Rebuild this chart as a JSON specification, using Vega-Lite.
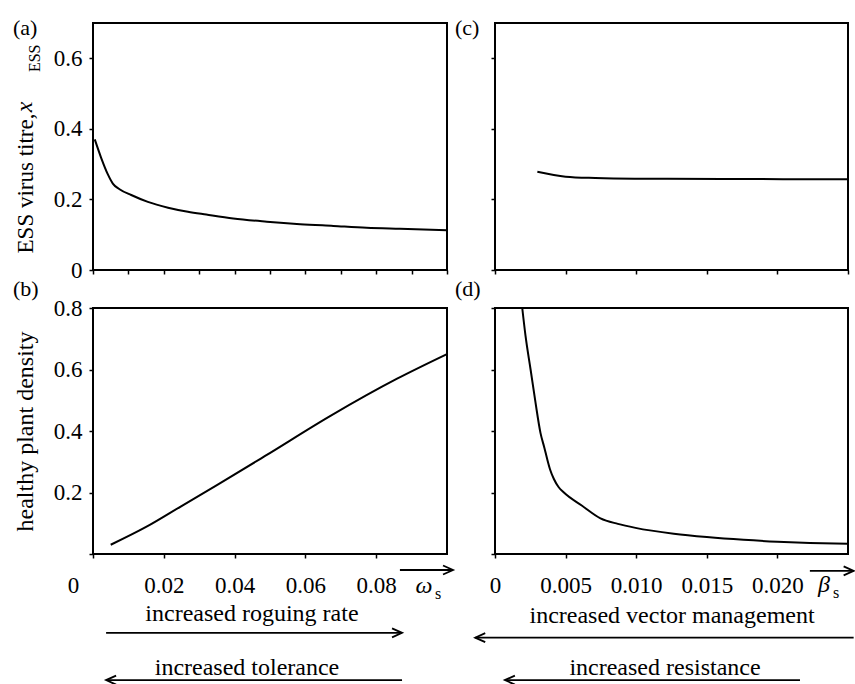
{
  "$schema": "https://vega.github.io/schema/vega-lite/v6.json",
  "background": "white",
  "padding": {"left": 12, "top": 16, "right": 0, "bottom": 0},
  "config": {
    "font": "Liberation Serif",
    "view": {"stroke": "black", "strokeWidth": 2},
    "axis": {
      "domain": false, "grid": false, "ticks": true, "tickColor": "black", "tickWidth": 1.5, "tickSize": 4,
      "labelFont": "Liberation Serif", "labelFontSize": 23, "labelColor": "black", "labelPadding": 7,
      "labelFlush": false, "labelOverlap": false,
      "titleFont": "Liberation Serif", "titleFontSize": 24, "titleFontWeight": "normal", "titleColor": "black"
    },
    "title": {"font": "Liberation Serif", "fontSize": 22, "fontWeight": "normal", "color": "black", "anchor": "start", "frame": "group", "baseline": "alphabetic", "offset": 0},
    "text": {"font": "Liberation Serif", "fontSize": 24, "color": "black"}
  },
  "datasets": {
    "a": [
      {"omega": 0.0005, "titre": 0.370}, {"omega": 0.0023, "titre": 0.318}, {"omega": 0.0042, "titre": 0.271},
      {"omega": 0.0056, "titre": 0.245}, {"omega": 0.0075, "titre": 0.229}, {"omega": 0.0108, "titre": 0.2125},
      {"omega": 0.0155, "titre": 0.193}, {"omega": 0.0212, "titre": 0.1766}, {"omega": 0.0268, "titre": 0.165},
      {"omega": 0.032, "titre": 0.157}, {"omega": 0.0396, "titre": 0.146}, {"omega": 0.0491, "titre": 0.137},
      {"omega": 0.0585, "titre": 0.130}, {"omega": 0.0679, "titre": 0.125}, {"omega": 0.0773, "titre": 0.120},
      {"omega": 0.0867, "titre": 0.117}, {"omega": 0.1, "titre": 0.113}
    ],
    "b": [
      {"omega": 0.005, "density": 0.030}, {"omega": 0.015, "density": 0.088}, {"omega": 0.025, "density": 0.156},
      {"omega": 0.035, "density": 0.224}, {"omega": 0.0485, "density": 0.318}, {"omega": 0.0672, "density": 0.450},
      {"omega": 0.0859, "density": 0.570}, {"omega": 0.1, "density": 0.650}
    ],
    "c": [
      {"beta": 0.003, "titre": 0.2786}, {"beta": 0.005, "titre": 0.2645}, {"beta": 0.0071, "titre": 0.2607},
      {"beta": 0.0099, "titre": 0.2587}, {"beta": 0.0161, "titre": 0.2579}, {"beta": 0.025, "titre": 0.257}
    ],
    "d": [
      {"beta": 0.00193, "density": 0.8}, {"beta": 0.00216, "density": 0.71}, {"beta": 0.00252, "density": 0.60},
      {"beta": 0.00287, "density": 0.492}, {"beta": 0.00322, "density": 0.394}, {"beta": 0.0035, "density": 0.345},
      {"beta": 0.0037, "density": 0.308}, {"beta": 0.0039, "density": 0.275},
      {"beta": 0.00417, "density": 0.244}, {"beta": 0.0045, "density": 0.218}, {"beta": 0.00488, "density": 0.200}, {"beta": 0.00617, "density": 0.157},
      {"beta": 0.00747, "density": 0.116}, {"beta": 0.0087, "density": 0.098}, {"beta": 0.00995, "density": 0.085}, {"beta": 0.01266, "density": 0.066},
      {"beta": 0.015, "density": 0.055}, {"beta": 0.0176, "density": 0.046}, {"beta": 0.02, "density": 0.040},
      {"beta": 0.0223, "density": 0.036}, {"beta": 0.025, "density": 0.033}
    ],
    "arrowsB": [
      {"x1": 0.0037, "x2": 0.0873, "y": -0.2565, "head": 0.0873, "dir": "right"},
      {"x1": 0.0037, "x2": 0.0873, "y": -0.41, "head": 0.0037, "dir": "left"},
      {"x1": 0.0867, "x2": 0.1017, "y": -0.052, "head": 0.1017, "dir": "right"}
    ],
    "textB": [
      {"x": 0.0449, "y": -0.195, "label": "increased roguing rate"},
      {"x": 0.0435, "y": -0.371, "label": "increased tolerance"}
    ],
    "arrowsD": [
      {"x1": -0.0014, "x2": 0.0254, "y": -0.272, "head": -0.0014, "dir": "left"},
      {"x1": 0.0007, "x2": 0.0216, "y": -0.41, "head": 0.0007, "dir": "left"},
      {"x1": 0.0223, "x2": 0.0254, "y": -0.055, "head": 0.0254, "dir": "right"}
    ],
    "textD": [
      {"x": 0.01254, "y": -0.2, "label": "increased vector management"},
      {"x": 0.01204, "y": -0.371, "label": "increased resistance"}
    ]
  },
  "columns": 2,
  "spacing": {"row": 38, "column": 48},
  "bounds": "flush",
  "concat": [
    {
      "title": {"text": "(a)", "dx": -80, "dy": 21},
      "width": 354, "height": 247,
      "resolve": {"axis": {"x": "independent", "y": "independent"}},
      "layer": [
        {
          "data": {"name": "a"},
          "mark": {"type": "line", "color": "black", "strokeWidth": 2, "interpolate": "monotone"},
          "encoding": {
            "x": {"field": "omega", "type": "quantitative", "scale": {"domain": [0, 0.1], "nice": false},
                  "axis": {"values": [0, 0.01, 0.02, 0.03, 0.04, 0.05, 0.06, 0.07, 0.08, 0.09, 0.1], "labels": false, "title": null}},
            "y": {"field": "titre", "type": "quantitative", "scale": {"domain": [0, 0.7], "nice": false},
                  "axis": {"values": [0, 0.2, 0.4, 0.6], "labelExpr": "datum.value === 0 ? '0' : format(datum.value, '.1f')",
                           "title": "ESS virus titre,", "titleFontSize": 23, "titleY": 160, "titlePadding": 16}}
          }
        },
        {
          "data": {"values": [{"x": -0.0172, "y": 0.462, "label": "x"}]},
          "mark": {"type": "text", "angle": 270, "fontSize": 24, "fontStyle": "italic", "baseline": "alphabetic", "align": "center"},
          "encoding": {
            "x": {"field": "x", "type": "quantitative", "axis": null},
            "y": {"field": "y", "type": "quantitative", "axis": null},
            "text": {"field": "label"}
          }
        },
        {
          "data": {"values": [{"x": -0.015, "y": 0.6, "label": "ESS"}]},
          "mark": {"type": "text", "angle": 270, "fontSize": 16, "baseline": "alphabetic", "align": "center"},
          "encoding": {
            "x": {"field": "x", "type": "quantitative", "axis": null},
            "y": {"field": "y", "type": "quantitative", "axis": null},
            "text": {"field": "label"}
          }
        }
      ]
    },
    {
      "title": {"text": "(c)", "dx": -40, "dy": 21},
      "width": 353, "height": 247,
      "data": {"name": "c"},
      "mark": {"type": "line", "color": "black", "strokeWidth": 2, "interpolate": "monotone"},
      "encoding": {
        "x": {"field": "beta", "type": "quantitative", "scale": {"domain": [0, 0.025], "nice": false},
              "axis": {"values": [0, 0.005, 0.01, 0.015, 0.02, 0.025], "labels": false, "title": null}},
        "y": {"field": "titre", "type": "quantitative", "scale": {"domain": [0, 0.7], "nice": false},
              "axis": {"values": [0, 0.2, 0.4, 0.6], "labels": false, "title": null}}
      }
    },
    {
      "title": {"text": "(b)", "dx": -80, "dy": 8},
      "width": 354, "height": 246,
      "resolve": {"axis": {"x": "independent", "y": "independent"}},
      "layer": [
        {
          "data": {"name": "b"},
          "mark": {"type": "line", "color": "black", "strokeWidth": 2, "interpolate": "monotone"},
          "encoding": {
            "x": {"field": "omega", "type": "quantitative", "scale": {"domain": [0, 0.1], "nice": false},
                  "axis": {"values": [0, 0.02, 0.04, 0.06, 0.08], "labelPadding": 16,
                           "labelExpr": "datum.value === 0 ? '0' : format(datum.value, '.2f')", "title": null,
                           "labelOffset": {"condition": {"test": "datum.value === 0", "value": -20}, "value": 0}}},
            "y": {"field": "density", "type": "quantitative", "scale": {"domain": [0, 0.8], "nice": false},
                  "axis": {"values": [0, 0.2, 0.4, 0.6, 0.8], "labelExpr": "datum.value === 0 ? '' : format(datum.value, '.1f')",
                           "title": "healthy plant density", "titlePadding": 16}}
          }
        },
        {
          "data": {"name": "arrowsB"},
          "mark": {"type": "rule", "color": "black", "strokeWidth": 1.8},
          "encoding": {
            "x": {"field": "x1", "type": "quantitative", "axis": null},
            "x2": {"field": "x2"},
            "y": {"field": "y", "type": "quantitative", "axis": null}
          }
        },
        {
          "data": {"name": "arrowsB"},
          "mark": {"type": "point", "filled": false, "color": "black", "strokeWidth": 1.8, "size": 400, "opacity": 1},
          "encoding": {
            "x": {"field": "head", "type": "quantitative", "axis": null},
            "y": {"field": "y", "type": "quantitative", "axis": null},
            "shape": {"field": "dir", "type": "nominal", "legend": null,
                      "scale": {"domain": ["right", "left"], "range": ["M -1 -0.45 L 0 0 L -1 0.45", "M 1 -0.45 L 0 0 L 1 0.45"]}}
          }
        },
        {
          "data": {"name": "textB"},
          "mark": {"type": "text", "fontSize": 24, "baseline": "middle", "align": "center"},
          "encoding": {
            "x": {"field": "x", "type": "quantitative", "axis": null},
            "y": {"field": "y", "type": "quantitative", "axis": null},
            "text": {"field": "label"}
          }
        },
        {
          "data": {"values": [{"x": 0.0935, "y": -0.104, "label": "ω"}]},
          "mark": {"type": "text", "fontSize": 24, "fontStyle": "italic", "baseline": "middle", "align": "center"},
          "encoding": {
            "x": {"field": "x", "type": "quantitative", "axis": null},
            "y": {"field": "y", "type": "quantitative", "axis": null},
            "text": {"field": "label"}
          }
        },
        {
          "data": {"values": [{"x": 0.0975, "y": -0.13, "label": "s"}]},
          "mark": {"type": "text", "fontSize": 16, "baseline": "middle", "align": "center"},
          "encoding": {
            "x": {"field": "x", "type": "quantitative", "axis": null},
            "y": {"field": "y", "type": "quantitative", "axis": null},
            "text": {"field": "label"}
          }
        }
      ]
    },
    {
      "title": {"text": "(d)", "dx": -40, "dy": 1},
      "width": 353, "height": 246,
      "resolve": {"axis": {"x": "independent", "y": "independent"}},
      "layer": [
        {
          "data": {"name": "d"},
          "mark": {"type": "line", "color": "black", "strokeWidth": 2, "interpolate": "monotone"},
          "encoding": {
            "x": {"field": "beta", "type": "quantitative", "scale": {"domain": [0, 0.025], "nice": false},
                  "axis": {"values": [0, 0.005, 0.01, 0.015, 0.02], "labelPadding": 16,
                           "labelExpr": "datum.value === 0 ? '0' : format(datum.value, '.3f')", "title": null}},
            "y": {"field": "density", "type": "quantitative", "scale": {"domain": [0, 0.8], "nice": false},
                  "axis": {"values": [0, 0.2, 0.4, 0.6, 0.8], "labels": false, "title": null}}
          }
        },
        {
          "data": {"name": "arrowsD"},
          "mark": {"type": "rule", "color": "black", "strokeWidth": 1.8},
          "encoding": {
            "x": {"field": "x1", "type": "quantitative", "axis": null},
            "x2": {"field": "x2"},
            "y": {"field": "y", "type": "quantitative", "axis": null}
          }
        },
        {
          "data": {"name": "arrowsD"},
          "mark": {"type": "point", "filled": false, "color": "black", "strokeWidth": 1.8, "size": 400, "opacity": 1},
          "encoding": {
            "x": {"field": "head", "type": "quantitative", "axis": null},
            "y": {"field": "y", "type": "quantitative", "axis": null},
            "shape": {"field": "dir", "type": "nominal", "legend": null,
                      "scale": {"domain": ["right", "left"], "range": ["M -1 -0.45 L 0 0 L -1 0.45", "M 1 -0.45 L 0 0 L 1 0.45"]}}
          }
        },
        {
          "data": {"name": "textD"},
          "mark": {"type": "text", "fontSize": 24, "baseline": "middle", "align": "center"},
          "encoding": {
            "x": {"field": "x", "type": "quantitative", "axis": null},
            "y": {"field": "y", "type": "quantitative", "axis": null},
            "text": {"field": "label"}
          }
        },
        {
          "data": {"values": [{"x": 0.0233, "y": -0.1, "label": "β"}]},
          "mark": {"type": "text", "fontSize": 24, "fontStyle": "italic", "baseline": "middle", "align": "center"},
          "encoding": {
            "x": {"field": "x", "type": "quantitative", "axis": null},
            "y": {"field": "y", "type": "quantitative", "axis": null},
            "text": {"field": "label"}
          }
        },
        {
          "data": {"values": [{"x": 0.02415, "y": -0.127, "label": "s"}]},
          "mark": {"type": "text", "fontSize": 16, "baseline": "middle", "align": "center"},
          "encoding": {
            "x": {"field": "x", "type": "quantitative", "axis": null},
            "y": {"field": "y", "type": "quantitative", "axis": null},
            "text": {"field": "label"}
          }
        }
      ]
    }
  ]
}
